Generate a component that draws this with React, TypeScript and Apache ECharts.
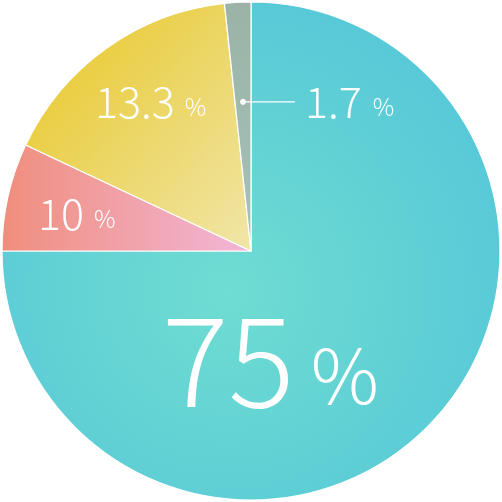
import React, { useEffect, useRef } from 'react';
import * as echarts from 'echarts';

const categories = ['A', 'B', 'C', 'D'];
// slice sizes as drawn in the picture
const values = [75, 7, 16.3, 1.7];
// percentages as printed on the slices
const labelTexts = ['75', '10', '13.3', '1.7'];

const W = 502;
const H = 502;
const CX = 251;
const CY = 251;
const R = 249;

// label anchor (bottom-left of text box) per slice
const LABEL_POS = [
  [162, 415],
  [38, 232],
  [95, 120],
  [305, 120],
];
const FONT = [124, 43, 43, 43];
const PCT_FONT = [76, 24, 24, 24];
const GAP = [16, 10, 10, 11];

const FILLS: any[] = [
  new echarts.graphic.RadialGradient(0.45, 0.58, 0.62, [
    { offset: 0, color: '#6fddd1' },
    { offset: 1, color: '#57c8d8' },
  ]),
  new echarts.graphic.LinearGradient(0, 0, 1, 0, [
    { offset: 0, color: '#f08e7c' },
    { offset: 1, color: '#f2b6d8' },
  ]),
  new echarts.graphic.LinearGradient(0, 0, 1, 1, [
    { offset: 0, color: '#e8c622' },
    { offset: 1, color: '#f0e6a8' },
  ]),
  new echarts.graphic.LinearGradient(0, 0, 0, 1, [
    { offset: 0, color: '#9ab3a6' },
    { offset: 1, color: '#a9c2ba' },
  ]),
];

const total = values.reduce((a, b) => a + b, 0);
const midAngle = (i: number) => {
  const before = values.slice(0, i).reduce((a, b) => a + b, 0);
  const deg = 90 - ((before + values[i] / 2) / total) * 360;
  return (deg * Math.PI) / 180;
};
const dotX = CX + R * 0.6 * Math.cos(midAngle(3));
const dotY = CY - R * 0.6 * Math.sin(midAngle(3));

const FONT_FAMILY = 'Noto Sans CJK KR';

const App = (): JSX.Element => {
  const divEL = useRef(null);

  useEffect(() => {
    const instance = echarts.init(divEL.current as any, null, { renderer: 'svg' });
    const option: any = {
      animation: false,
      graphic: [
        {
          type: 'line',
          shape: { x1: dotX, y1: dotY, x2: 295, y2: dotY },
          style: { stroke: '#ffffff', lineWidth: 1.3 },
          z: 10,
        },
        {
          type: 'circle',
          shape: { cx: dotX, cy: dotY, r: 3 },
          style: { fill: '#ffffff' },
          z: 10,
        },
      ],
      series: [
        {
          type: 'pie',
          center: [CX, CY],
          radius: R,
          startAngle: 90,
          clockwise: true,
          avoidLabelOverlap: false,
          itemStyle: { borderColor: '#ffffff', borderWidth: 1.2 },
          emphasis: { disabled: true },
          labelLine: { show: false },
          data: values.map((v, i) => ({
            name: categories[i],
            value: v,
            itemStyle: { color: FILLS[i] },
            label: {
              show: true,
              position: 'inside',
              formatter: `{n|${labelTexts[i]}}{p|%}`,
              rich: {
                n: {
                  fontSize: FONT[i],
                  fontFamily: FONT_FAMILY,
                  fontWeight: 300,
                  color: '#ffffff',
                  verticalAlign: 'bottom',
                  lineHeight: FONT[i],
                },
                p: {
                  fontSize: PCT_FONT[i],
                  fontFamily: FONT_FAMILY,
                  fontWeight: 300,
                  color: '#ffffff',
                  verticalAlign: 'bottom',
                  lineHeight: FONT[i],
                  padding: [0, 0, (FONT[i] - PCT_FONT[i]) * 0.12, GAP[i]],
                },
              },
            },
          })),
          labelLayout: (params: any) => {
            const i = params.dataIndex;
            return {
              x: LABEL_POS[i][0],
              y: LABEL_POS[i][1],
              align: 'left',
              verticalAlign: 'bottom',
            };
          },
        },
      ],
    };
    instance.setOption(option);
    return () => {
      instance.dispose();
    };
  }, []);

  return (
    <div
      ref={divEL}
      style={{ position: 'fixed', left: 0, top: 0, width: W, height: H }}
    ></div>
  );
};

export default App;
